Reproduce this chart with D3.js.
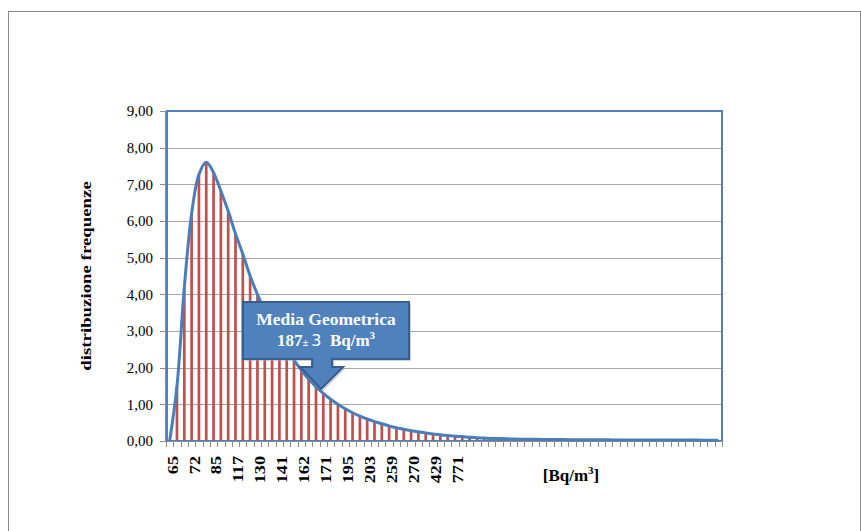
<!DOCTYPE html>
<html>
<head>
<meta charset="utf-8">
<script src="https://cdn.jsdelivr.net/npm/d3@7"></script>
<style>
  body { margin: 0; background: #fff; }
  svg { display: block; font-family: 'Liberation Serif', 'Times New Roman', serif; }
</style>
</head>
<body>
<svg id="chart" width="861" height="531"></svg>
<script>
// frequency distribution per class (76 classes)
const frequencies = [
  0, 1.5, 4.18, 6.2, 7.27, 7.6, 7.32, 6.82, 6.27, 5.65,
  5.1, 4.5, 4.0, 3.55, 3.15, 2.8, 2.48, 2.2, 1.93, 1.69,
  1.48, 1.3, 1.14, 1.0, 0.88, 0.77, 0.68, 0.6, 0.53, 0.47,
  0.41, 0.36, 0.32, 0.28, 0.25, 0.22, 0.19, 0.17, 0.15, 0.13,
  0.12, 0.1, 0.09, 0.08, 0.07, 0.065, 0.06, 0.055, 0.05, 0.048,
  0.045, 0.043, 0.04, 0.04, 0.038, 0.036, 0.035, 0.034, 0.033, 0.032,
  0.031, 0.03, 0.03, 0.029, 0.028, 0.028, 0.027, 0.026, 0.026, 0.025,
  0.025, 0.024, 0.024, 0.023, 0.023, 0.022
];
// labels shown on every third class
const tickLabels = ['65', '72', '85', '117', '130', '141', '162', '171', '195', '203', '259', '270', '429', '771'];
const yTicks = [0, 1, 2, 3, 4, 5, 6, 7, 8, 9];

const svg = d3.select('#chart');
const plot = { left: 166, right: 722, top: 111, bottom: 441 };

const xScale = d3.scaleBand()
  .domain(d3.range(frequencies.length))
  .range([plot.left, plot.right])
  .padding(0);

const yScale = d3.scaleLinear()
  .domain([0, 9])
  .range([plot.bottom, plot.top]);

const fmt = (v) => d3.format('.2f')(v).replace('.', ',');

// outer chart frame
svg.append('rect')
  .attr('x', 8.5).attr('y', 11.5)
  .attr('width', 852).attr('height', 540)
  .attr('fill', 'none')
  .attr('stroke', '#8c8c8c')
  .attr('stroke-width', 1);

// horizontal grid lines
svg.append('g')
  .selectAll('line')
  .data(yTicks.slice(1))
  .join('line')
  .attr('x1', plot.left).attr('x2', plot.right)
  .attr('y1', (d) => Math.round(yScale(d)) + 0.5)
  .attr('y2', (d) => Math.round(yScale(d)) + 0.5)
  .attr('stroke', '#a6a6a6')
  .attr('stroke-width', 1);

// bars
const barW = xScale.bandwidth() * 0.37;
svg.append('g')
  .selectAll('rect')
  .data(frequencies)
  .join('rect')
  .attr('x', (d, i) => xScale(i) + (xScale.bandwidth() - barW) / 2)
  .attr('y', (d) => yScale(d))
  .attr('width', barW)
  .attr('height', (d) => plot.bottom - yScale(d))
  .attr('fill', '#c0504d');

// plot area border
svg.append('rect')
  .attr('x', plot.left + 1).attr('y', plot.top)
  .attr('width', plot.right - plot.left - 1)
  .attr('height', plot.bottom - plot.top)
  .attr('fill', 'none')
  .attr('stroke', '#4f81bd')
  .attr('stroke-width', 2);

// y axis
const yAxis = svg.append('g');
yAxis.append('line')
  .attr('x1', plot.left - 0.5).attr('x2', plot.left - 0.5)
  .attr('y1', plot.top).attr('y2', plot.bottom)
  .attr('stroke', '#8c8c8c');
yAxis.selectAll('line.tick')
  .data(yTicks)
  .join('line')
  .attr('class', 'tick')
  .attr('x1', plot.left - 6).attr('x2', plot.left)
  .attr('y1', (d) => Math.round(yScale(d)) + 0.5)
  .attr('y2', (d) => Math.round(yScale(d)) + 0.5)
  .attr('stroke', '#8c8c8c');
yAxis.selectAll('text')
  .data(yTicks)
  .join('text')
  .attr('x', plot.left - 13)
  .attr('y', (d) => yScale(d))
  .attr('dy', '0.35em')
  .attr('text-anchor', 'end')
  .attr('font-size', 15)
  .attr('fill', '#000')
  .text((d) => fmt(d));

// x axis
const xAxis = svg.append('g');
xAxis.append('line')
  .attr('x1', plot.left).attr('x2', plot.right)
  .attr('y1', plot.bottom + 0.5).attr('y2', plot.bottom + 0.5)
  .attr('stroke', '#8c8c8c');
xAxis.selectAll('line.tick')
  .data(d3.range(frequencies.length + 1))
  .join('line')
  .attr('class', 'tick')
  .attr('x1', (d) => Math.round(plot.left + d * xScale.step()) + 0.5)
  .attr('x2', (d) => Math.round(plot.left + d * xScale.step()) + 0.5)
  .attr('y1', plot.bottom).attr('y2', plot.bottom + 6)
  .attr('stroke', '#8c8c8c');
// rotated labels are drawn stretched along their length, as in the source
xAxis.selectAll('text')
  .data(tickLabels)
  .join('text')
  .attr('transform', (d, i) => {
    const cx = xScale(i * 3) + xScale.bandwidth() / 2 + 3;
    return `translate(${cx},${plot.bottom + 15}) rotate(-90) scale(1.3,1)`;
  })
  .attr('dy', '0.35em')
  .attr('text-anchor', 'end')
  .attr('font-size', 14)
  .attr('font-weight', 'bold')
  .attr('fill', '#000')
  .text((d) => d);

// smoothed frequency curve
const line = d3.line()
  .x((d, i) => xScale(i) + xScale.bandwidth() / 2)
  .y((d) => yScale(d))
  .curve(d3.curveCatmullRom.alpha(0.5));

svg.append('path')
  .datum(frequencies)
  .attr('d', line)
  .attr('fill', 'none')
  .attr('stroke', '#4a7ebb')
  .attr('stroke-width', 3)
  .attr('stroke-linejoin', 'round');

// axis titles
svg.append('text')
  .attr('transform', `translate(91,${(plot.top + plot.bottom) / 2}) rotate(-90) scale(1.3,1)`)
  .attr('text-anchor', 'middle')
  .attr('font-size', 14.5)
  .attr('font-weight', 'bold')
  .text('distribuzione frequenze');

const unit = svg.append('text')
  .attr('x', 571).attr('y', 481)
  .attr('text-anchor', 'middle')
  .attr('font-size', 17)
  .attr('font-weight', 'bold');
unit.append('tspan').text('[Bq/m');
unit.append('tspan').attr('dy', -7).attr('font-size', 11).text('3');
unit.append('tspan').attr('dy', 7).text(']');

// callout pointing at the curve
const tipX = xScale(21) + xScale.bandwidth() * 0.2;
const tipY = yScale(1.42);
const box = { x0: 243, x1: 409, y0: 302, y1: 359 };
const calloutPath = [
  [box.x0, box.y0], [box.x1, box.y0], [box.x1, box.y1],
  [tipX + 11, box.y1], [tipX + 11, box.y1 + 8], [tipX + 22, box.y1 + 8],
  [tipX, tipY],
  [tipX - 21, box.y1 + 8], [tipX - 9, box.y1 + 8], [tipX - 9, box.y1],
  [box.x0, box.y1]
];

svg.append('path')
  .attr('d', d3.line()(calloutPath.map(([px, py]) => [px + 2, py + 2])) + 'Z')
  .attr('fill', '#9aa7b8')
  .attr('opacity', 0.5);
svg.append('path')
  .attr('d', d3.line()(calloutPath) + 'Z')
  .attr('fill', '#4f81bd')
  .attr('stroke', '#385d8a')
  .attr('stroke-width', 2)
  .attr('stroke-linejoin', 'miter');

const cx = (box.x0 + box.x1) / 2;
svg.append('text')
  .attr('x', cx).attr('y', 325)
  .attr('text-anchor', 'middle')
  .attr('font-size', 17.5)
  .attr('font-weight', 'bold')
  .attr('fill', '#fff')
  .text('Media Geometrica');

const mean = svg.append('text')
  .attr('x', cx).attr('y', 346)
  .attr('text-anchor', 'middle')
  .attr('font-size', 17)
  .attr('font-weight', 'bold')
  .attr('fill', '#fff')
  .attr('xml:space', 'preserve');
mean.append('tspan').text('187');
mean.append('tspan').attr('font-size', 11).text('± ');
mean.append('tspan').attr('font-family', 'DejaVu Sans').attr('font-weight', 'normal').attr('font-size', 16).text('3');
mean.append('tspan').text('\u00a0 Bq/m');
mean.append('tspan').attr('dy', -7).attr('font-size', 11).text('3');
</script>
</body>
</html>
